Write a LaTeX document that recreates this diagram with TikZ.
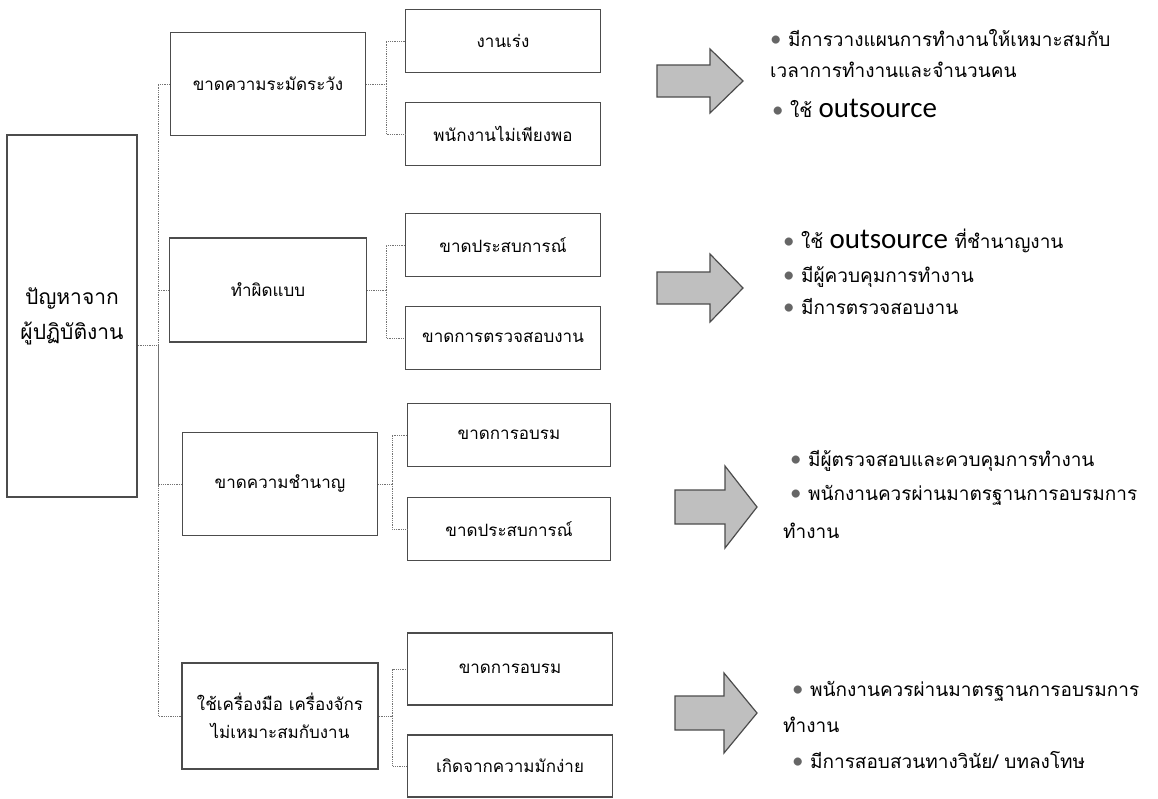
\documentclass[tikz,border=0pt]{standalone}
\usepackage{fontspec}
\newfontfamily\thaifont[Script=Thai]{Loma}
\newfontfamily\latinfont{Carlito}
\newcommand{\bul}{{\latinfont\fontsize{23}{23}\selectfont\color{black!60}•}\ }
\newcommand{\outs}{{\latinfont\fontsize{29}{29}\selectfont outsource}}
\tikzset{
  box/.style={draw=black!70, line width=1.5pt, fill=white, inner sep=2pt, align=center,
    font=\thaifont\fontsize{17}{28}\selectfont},
  rootbox/.style={box, font=\thaifont\fontsize{21}{35}\selectfont},
  link/.style={draw=black!55, line width=0.8pt, densely dotted},
  blockarrow/.style={draw=black!70, line width=1.2pt, fill=black!25, line join=miter},
  note/.style={anchor=base west, inner sep=0pt, font=\thaifont\fontsize{19}{24}\selectfont}
}
\begin{document}
\begin{tikzpicture}[x=1pt,y=-1pt]
    \useasboundingbox (0,0) rectangle (1158,798);
    % boxes
    \node[rootbox, minimum width=130pt, minimum height=362pt] (root) at (72,316) {ปัญหาจาก\\ผู้ปฏิบัติงาน};
    \node[box, minimum width=195pt, minimum height=103pt] (m1) at (268,84) {ขาดความระมัดระวัง};
    \node[box, minimum width=197pt, minimum height=104pt] (m2) at (268,290) {ทำผิดแบบ};
    \node[box, minimum width=195pt, minimum height=103pt] (m3) at (280,484) {ขาดความชำนาญ};
    \node[box, minimum width=196pt, minimum height=106pt] (m4) at (280,716) {ใช้เครื่องมือ เครื่องจักร\\ไม่เหมาะสมกับงาน};

    \node[box, minimum width=195pt, minimum height=63pt] (s11) at (503,41) {งานเร่ง};
    \node[box, minimum width=195pt, minimum height=63pt] (s12) at (503,134) {พนักงานไม่เพียงพอ};
    \node[box, minimum width=195pt, minimum height=63pt] (s21) at (503,245) {ขาดประสบการณ์};
    \node[box, minimum width=195pt, minimum height=63pt] (s22) at (503,338) {ขาดการตรวจสอบงาน};
    \node[box, minimum width=203pt, minimum height=63pt] (s31) at (509,435) {ขาดการอบรม};
    \node[box, minimum width=203pt, minimum height=63pt] (s32) at (509,529) {ขาดประสบการณ์};
    \node[box, minimum width=205pt, minimum height=72pt] (s41) at (510,669) {ขาดการอบรม};
    \node[box, minimum width=205pt, minimum height=62pt] (s42) at (510,766) {เกิดจากความมักง่าย};

    % connectors
    \coordinate (hub) at (158,345);
    \draw[link] (root.east |- hub) -- (hub);
    \draw[link] (m1.west) -| (hub);
    \draw[link] (m2.west) -| (hub);
    \draw[link] (m3.west) -| (hub);
    \draw[link] (m4.west) -| (hub);

    \draw[link] (m1.east) -- ++(20,0) coordinate (j1);
    \draw[link] (j1) |- (s11.west);
    \draw[link] (j1) |- (s12.west);
    \draw[link] (m2.east) -- ++(19,0) coordinate (j2);
    \draw[link] (j2) |- (s21.west);
    \draw[link] (j2) |- (s22.west);
    \draw[link] (m3.east) -- ++(14,0) coordinate (j3);
    \draw[link] (j3) |- (s31.west);
    \draw[link] (j3) |- (s32.west);
    \draw[link] (m4.east) -- ++(14,0) coordinate (j4);
    \draw[link] (j4) |- (s41.west);
    \draw[link] (j4) |- (s42.west);

    % arrows
    \draw[blockarrow] (657,65) -- (710,65) -- (710,49) -- (743,81) -- (710,113) -- (710,97) -- (657,97) -- cycle;
    \draw[blockarrow] (657,272) -- (710,272) -- (710,254) -- (743,288) -- (710,322) -- (710,304) -- (657,304) -- cycle;
    \draw[blockarrow] (675,490) -- (725,490) -- (725,466) -- (757,507) -- (725,548) -- (725,524) -- (675,524) -- cycle;
    \draw[blockarrow] (675,696) -- (724,696) -- (724,673) -- (757,713) -- (724,753) -- (724,730) -- (675,730) -- cycle;

    % notes
    \node[note] (n11) at (770,46) {\bul มีการวางแผนการทำงานให้เหมาะสมกับ};
    \node[note] (n12) at (770,77) {เวลาการทำงานและจำนวนคน};
    \node[note] (n13) at (772,117) {\bul ใช้ \outs};

    \node[note] (n21) at (783,248) {\bul ใช้ \outs{} ที่ชำนาญงาน};
    \node[note] (n22) at (783,282) {\bul มีผู้ควบคุมการทำงาน};
    \node[note] (n23) at (783,314) {\bul มีการตรวจสอบงาน};

    \node[note] (n31) at (790,466) {\bul มีผู้ตรวจสอบและควบคุมการทำงาน};
    \node[note] (n32) at (790,500) {\bul พนักงานควรผ่านมาตรฐานการอบรมการ};
    \node[note] (n33) at (783,538) {ทำงาน};

    \node[note] (n41) at (792,696) {\bul พนักงานควรผ่านมาตรฐานการอบรมการ};
    \node[note] (n42) at (783,732) {ทำงาน};
    \node[note] (n43) at (792,768) {\bul มีการสอบสวนทางวินัย/ บทลงโทษ};
\end{tikzpicture}
\end{document}
